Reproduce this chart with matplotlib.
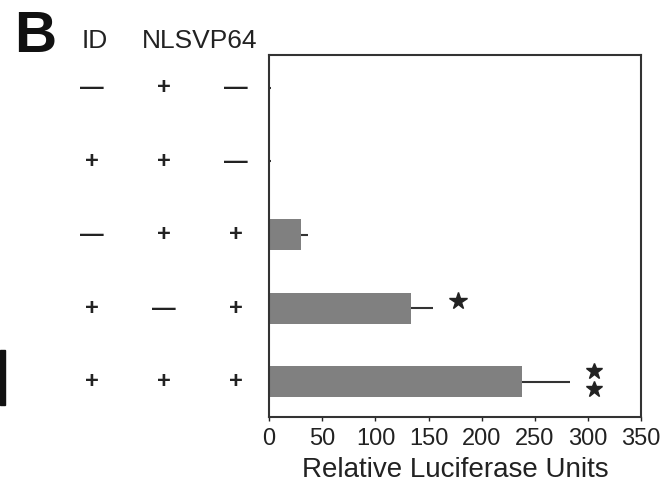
import matplotlib
matplotlib.use('agg')
import matplotlib.pyplot as plt
from matplotlib.transforms import blended_transform_factory
from matplotlib.patches import Rectangle

plt.rcParams['font.family'] = ['Liberation Sans', 'DejaVu Sans']

# data (top row first)
id_sign = ["\u2014", "+", "\u2014", "+", "+"]
nls_sign = ["+", "+", "+", "\u2014", "+"]
vp64_sign = ["\u2014", "\u2014", "+", "+", "+"]
luc = [1, 1, 30, 133, 238]
luc_err = [1, 1, 7, 21, 45]
stars = [0, 0, 0, 1, 2]

fig = plt.figure(figsize=(6.63, 4.98), dpi=100)
ax = fig.add_axes([0.406, 0.163, 0.561, 0.727])

rows = list(range(len(luc)))
ax.barh(rows, luc, height=0.42, color="#808080", edgecolor="none")
ax.errorbar(luc, rows, xerr=[[0]*len(luc), luc_err], fmt="none",
            ecolor="#333333", elinewidth=1.5, capsize=0)
for r, v, e, n in zip(rows, luc, luc_err, stars):
    if n == 1:
        ax.plot(v + e + 24, r - 0.1, marker="*", ms=13, color="#222222", clip_on=False)
    elif n == 2:
        ax.plot([v + e + 23] * 2, [r - 0.15, r + 0.1], "*", ms=12, color="#222222", clip_on=False)

ax.set_xlim(0, 350)
ax.set_ylim(4.48, -0.45)
ax.set_yticks([])
ax.set_xticks(range(0, 351, 50))
ax.tick_params(axis="x", labelsize=17, length=3, width=1, colors="#222222", pad=5)
for sp in ax.spines.values():
    sp.set_color("#333333")
    sp.set_linewidth(1.5)
ax.set_xlabel("Relative Luciferase Units", fontsize=20, color="#222222", labelpad=5)

# sign table on the left
tr = blended_transform_factory(fig.transFigure, ax.transData)
cols = [(92 / 663, id_sign), (164 / 663, nls_sign), (236 / 663, vp64_sign)]
for x, signs in cols:
    for r, s in zip(rows, signs):
        ax.text(x, r, s, transform=tr, ha="center", va="center",
                fontsize=17, fontweight="bold", color="#222222", clip_on=False)

fig.text(95 / 663, 1 - 41 / 498, "ID", ha="center", va="center", fontsize=19, color="#222222")
fig.text(200 / 663, 1 - 41 / 498, "NLSVP64", ha="center", va="center", fontsize=19, color="#222222")
fig.text(35 / 663, 1 - 37 / 498, "B", ha="center", va="center", fontsize=42,
         fontweight="bold", color="#111111")

# scan artifact at the left edge
fig.patches.append(Rectangle((0, 1 - 405 / 498), 5 / 663, 55 / 498,
                             transform=fig.transFigure, color="#111111"))

plt.savefig("out.png", dpi=100)
